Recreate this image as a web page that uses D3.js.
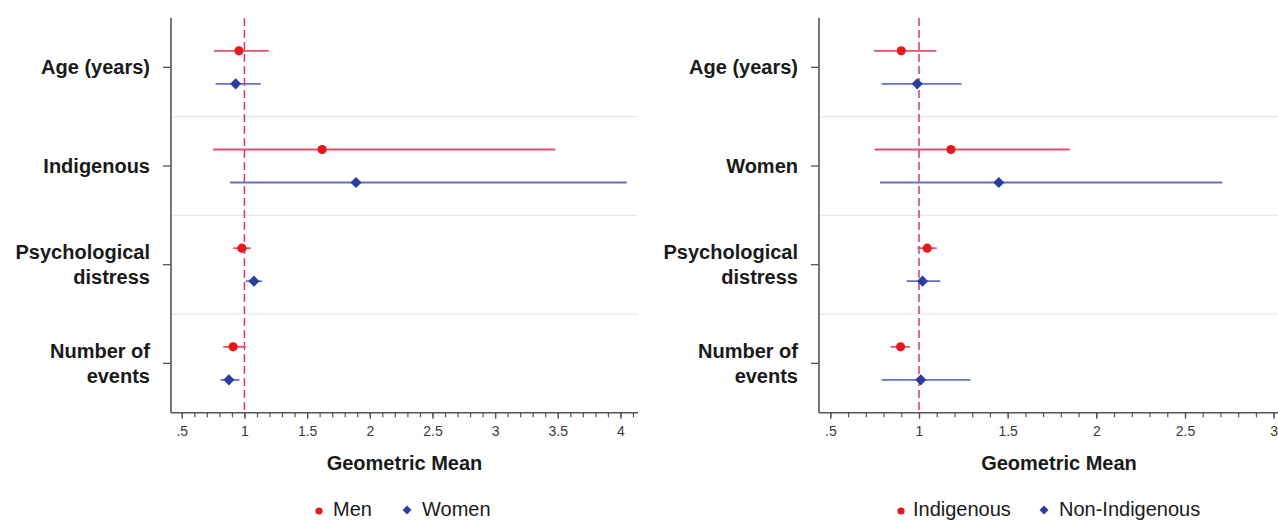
<!DOCTYPE html>
<html>
<head>
<meta charset="utf-8">
<script src="https://cdn.jsdelivr.net/npm/d3@7"></script>
<style>
  html, body { margin: 0; padding: 0; background: #fff; }
  svg { display: block; font-family: "Liberation Sans", Arial, sans-serif; }
</style>
</head>
<body>
<svg id="chart" width="1278" height="520"></svg>
<script>
// ---------- DATA ----------
const leftCategories  = ["Age (years)", "Indigenous", "Psychological\ndistress", "Number of\nevents"];
const rightCategories = ["Age (years)", "Women", "Psychological\ndistress", "Number of\nevents"];

const leftSeriesNames  = ["Men", "Women"];
const rightSeriesNames = ["Indigenous", "Non-Indigenous"];

// Left panel: Men
const menMean = [0.956, 1.62, 0.98, 0.91];
const menLow  = [0.757, 0.75, 0.91, 0.83];
const menHigh = [1.195, 3.48, 1.05, 1.01];
// Left panel: Women
const womenMean = [0.93, 1.89, 1.076, 0.876];
const womenLow  = [0.77, 0.885, 1.01, 0.81];
const womenHigh = [1.13, 4.05, 1.14, 0.96];

// Right panel: Indigenous
const indigMean = [0.90, 1.18, 1.046, 0.896];
const indigLow  = [0.746, 0.75, 0.99, 0.84];
const indigHigh = [1.098, 1.85, 1.10, 0.95];
// Right panel: Non-Indigenous
const nonIndigMean = [0.99, 1.45, 1.02, 1.01];
const nonIndigLow  = [0.79, 0.78, 0.93, 0.79];
const nonIndigHigh = [1.24, 2.71, 1.12, 1.29];

const leftTicks  = [0.5, 1, 1.5, 2, 2.5, 3, 3.5, 4];
const rightTicks = [0.5, 1, 1.5, 2, 2.5, 3];
const leftDomain  = [0.414, 4.14];
const rightDomain = [0.436, 3.143];
const refValue = 1;
const xTitle = "Geometric Mean";

// ---------- STYLE ----------
const RED_PT = "#e3191f", RED_LN = "#e5506c";
const BLUE_PT = "#2b3d9f", BLUE_LN = "#6a6ec0";
const REF = "#d63a6a";
const AXIS = "#555";
const GRID = "#e9e9e9";

const svg = d3.select("#chart");

function build(cats, names, means, lows, highs) {
  return names.map((n, si) => ({
    name: n, si,
    pts: cats.map((c, i) => ({ cat: c, mean: means[si][i], low: lows[si][i], high: highs[si][i] }))
  }));
}

const panels = [
  { cats: leftCategories, series: build(leftCategories, leftSeriesNames,
      [menMean, womenMean], [menLow, womenLow], [menHigh, womenHigh]),
    ticks: leftTicks, domain: leftDomain, x0: 171, x1: 638,
    legendX: [319, 407], legendTextX: [333, 422] },
  { cats: rightCategories, series: build(rightCategories, rightSeriesNames,
      [indigMean, nonIndigMean], [indigLow, nonIndigLow], [indigHigh, nonIndigHigh]),
    ticks: rightTicks, domain: rightDomain, x0: 819, x1: 1299,
    legendX: [901, 1044], legendTextX: [913, 1059] }
];

const yTop = 18, yBot = 412.7, offset = 16.5;
const fmt = d => String(d).replace(/^0\./, ".");
const diamond = d3.symbol().type(d3.symbolSquare).size(62);
const diamondLegend = d3.symbol().type(d3.symbolSquare).size(40);

panels.forEach(p => {
  const g = svg.append("g");
  const x = d3.scaleLinear().domain(p.domain).range([p.x0, p.x1]);
  const y = d3.scaleBand().domain(p.cats).range([yTop, yBot]).padding(0);

  // separators between categories
  g.selectAll(".sep").data(p.cats.slice(1)).enter().append("line")
    .attr("x1", p.x0).attr("x2", p.x1)
    .attr("y1", d => y(d)).attr("y2", d => y(d))
    .attr("stroke", GRID).attr("stroke-width", 1.2);

  // reference line
  g.append("line")
    .attr("x1", x(refValue)).attr("x2", x(refValue))
    .attr("y1", yTop).attr("y2", yBot)
    .attr("stroke", REF).attr("stroke-width", 1.5)
    .attr("stroke-dasharray", "8,4");

  // series
  p.series.forEach(s => {
    const dy = s.si === 0 ? -offset : offset;
    const lc = s.si === 0 ? RED_LN : BLUE_LN;
    const pc = s.si === 0 ? RED_PT : BLUE_PT;
    const cy = d => y(d.cat) + y.bandwidth() / 2 + dy;
    g.selectAll(null).data(s.pts).enter().append("line")
      .attr("x1", d => x(d.low)).attr("x2", d => x(d.high))
      .attr("y1", cy).attr("y2", cy)
      .attr("stroke", lc).attr("stroke-width", 1.8);
    if (s.si === 0) {
      g.selectAll(null).data(s.pts).enter().append("circle")
        .attr("cx", d => x(d.mean)).attr("cy", cy).attr("r", 4.6)
        .attr("fill", pc);
    } else {
      g.selectAll(null).data(s.pts).enter().append("path")
        .attr("d", diamond)
        .attr("transform", d => `translate(${x(d.mean)},${cy(d)}) rotate(45)`)
        .attr("fill", pc);
    }
  });

  // y axis
  const yAxis = d3.axisLeft(y).tickSize(8).tickFormat("");
  const ya = g.append("g").attr("transform", `translate(${p.x0},0)`).call(yAxis);
  ya.select(".domain").attr("d", `M-0,${yTop}V${yBot}`).attr("stroke", AXIS).attr("stroke-width", 1.6);
  ya.selectAll(".tick line").attr("stroke", AXIS).attr("stroke-width", 1.3);

  // category labels
  p.cats.forEach(c => {
    const lines = c.split("\n");
    const cyc = y(c) + y.bandwidth() / 2;
    const lh = 25;
    const t = g.append("text")
      .attr("text-anchor", "end")
      .attr("font-size", 20).attr("font-weight", "bold").attr("fill", "#1a1a1a");
    lines.forEach((ln, i) => {
      t.append("tspan")
        .attr("x", p.x0 - 21)
        .attr("y", cyc + (i - (lines.length - 1) / 2) * lh + 7)
        .text(ln);
    });
  });

  // x axis: minor ticks
  const minor = d3.range(Math.round(p.ticks[0] * 10), Math.floor(p.domain[1] * 10 + 1e-6) + 1).map(v => v / 10);
  const xm = g.append("g").attr("transform", `translate(0,${yBot})`)
    .call(d3.axisBottom(x).tickValues(minor).tickSize(4.5).tickFormat(""));
  xm.select(".domain").remove();
  xm.selectAll(".tick line").attr("stroke", AXIS).attr("stroke-width", 1.2);

  // x axis: major
  const xa = g.append("g").attr("transform", `translate(0,${yBot})`)
    .call(d3.axisBottom(x).tickValues(p.ticks).tickSize(6).tickPadding(7).tickFormat(fmt));
  xa.select(".domain").attr("d", `M${p.x0},0H${p.x1}`).attr("stroke", AXIS).attr("stroke-width", 1.6);
  xa.selectAll(".tick line").attr("stroke", AXIS).attr("stroke-width", 1.3);
  xa.attr("font-size", null).attr("font-family", null);
  xa.selectAll(".tick text")
    .style("font-size", "14px").style("fill", "#3a3a3a")
    .style("font-family", "'Liberation Sans', Arial, sans-serif");

  // x title
  g.append("text")
    .attr("x", (p.x0 + p.x1) / 2).attr("y", 470)
    .attr("text-anchor", "middle")
    .attr("font-size", 20).attr("font-weight", "bold").attr("fill", "#1a1a1a")
    .text(xTitle);

  // legend
  p.series.forEach(s => {
    if (s.si === 0) {
      g.append("circle").attr("cx", p.legendX[0]).attr("cy", 511).attr("r", 3.6).attr("fill", RED_PT);
    } else {
      g.append("path").attr("d", diamondLegend)
        .attr("transform", `translate(${p.legendX[1]},510) rotate(45)`).attr("fill", BLUE_PT);
    }
    g.append("text").attr("x", p.legendTextX[s.si]).attr("y", 516)
      .attr("font-size", 20).attr("fill", "#1a1a1a").text(s.name);
  });
});
</script>
</body>
</html>
